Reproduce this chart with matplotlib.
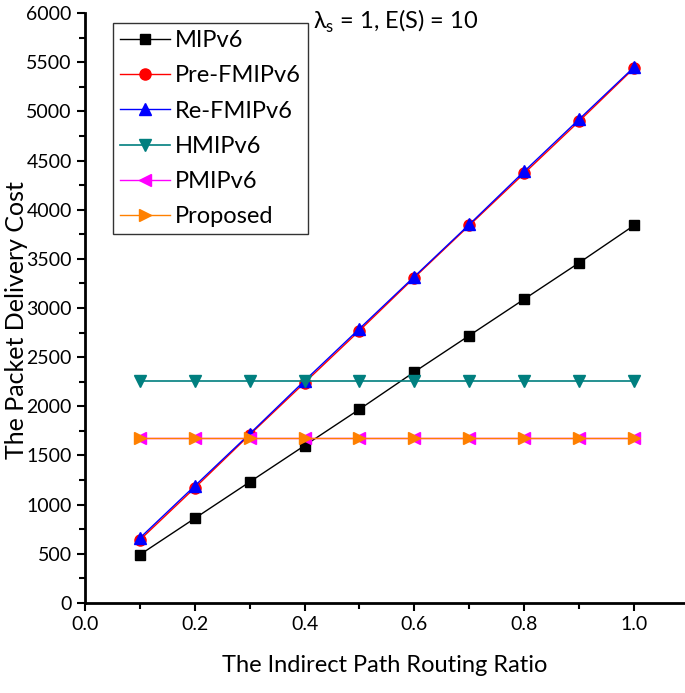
import numpy as np
import matplotlib.pyplot as plt
from matplotlib.ticker import MultipleLocator

plt.rcParams['font.family'] = ['Lato', 'DejaVu Sans']

ratio = [0.1, 0.2, 0.3, 0.4, 0.5, 0.6, 0.7, 0.8, 0.9, 1.0]
mipv6 = [490, 860, 1230, 1600, 1970, 2350, 2720, 3090, 3460, 3840]
pre_fmipv6 = [640, 1170, 1710, 2240, 2770, 3310, 3840, 4370, 4900, 5440]
re_fmipv6 = [660, 1190, 1720, 2260, 2790, 3320, 3850, 4390, 4920, 5450]
hmipv6 = [2260] * 10
pmipv6 = [1680] * 10
proposed = [1680] * 10

fig = plt.figure(figsize=(6.85, 6.93), dpi=100)
ax = fig.add_axes([0.124, 0.130, 0.876, 0.851])

ms = 8
ax.plot(ratio, mipv6, "-s", color="black", lw=1, ms=ms - 1, label="MIPv6")
ax.plot(ratio, pre_fmipv6, "-o", color="red", mec="red", lw=1, ms=ms, label="Pre-FMIPv6")
ax.plot(ratio, re_fmipv6, "-^", color="blue", lw=1, ms=ms, label="Re-FMIPv6")
ax.plot(ratio, hmipv6, "-v", color="#007f7f", mfc="#007f7f", lw=1.2, ms=ms, label="HMIPv6")
ax.plot(ratio, pmipv6, "-<", color="magenta", lw=1, ms=ms, label="PMIPv6")
ax.plot(ratio, proposed, "->", color="#ff8000", lw=1, ms=ms, label="Proposed")

ax.set_xlim(0, 1.093)
ax.set_ylim(0, 6000)
ax.xaxis.set_major_locator(MultipleLocator(0.2))
ax.xaxis.set_minor_locator(MultipleLocator(0.1))
ax.yaxis.set_major_locator(MultipleLocator(500))
ax.yaxis.set_minor_locator(MultipleLocator(250))
ax.xaxis.set_major_formatter(plt.FormatStrFormatter('%.1f'))
ax.tick_params(which='major', direction='out', length=6, width=1.5, labelsize=14)
ax.tick_params(which='minor', direction='out', length=4, width=1.5)
for s in ['top', 'right']:
    ax.spines[s].set_visible(False)
for s in ['left', 'bottom']:
    ax.spines[s].set_linewidth(2)

ax.set_xlabel("The Indirect Path Routing Ratio", fontsize=17, labelpad=16)
ax.set_ylabel("The Packet Delivery Cost", fontsize=18, labelpad=3)
ax.yaxis.set_label_coords(-0.095, 0.48)
ax.text(0.415, 5840, r"λ$_\mathregular{s}$ = 1, E(S) = 10", fontsize=17, va='baseline')

leg = ax.legend(loc='upper left', bbox_to_anchor=(0.047, 0.983), fontsize=17,
                frameon=True, fancybox=False, edgecolor='black',
                handlelength=2.1, handletextpad=0.2, borderpad=0.3,
                borderaxespad=0, labelspacing=0.6)
leg.get_frame().set_linewidth(1)

fig.savefig("out.png")
